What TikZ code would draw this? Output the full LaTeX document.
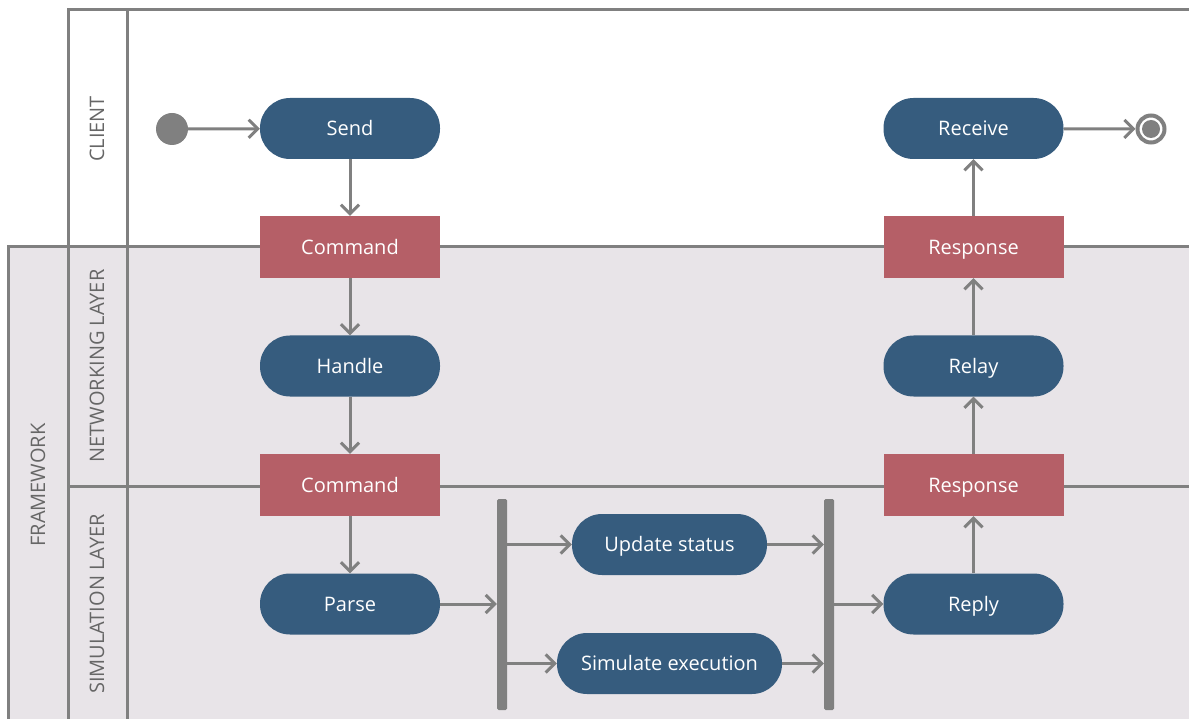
\documentclass[tikz,border=0pt]{standalone}
\usepackage{fontspec}
\setmainfont{Open Sans}
\usepackage{tikz}
\usetikzlibrary{arrows.meta}
\definecolor{ACTblue}{HTML}{365C7E}
\definecolor{OBJred}{HTML}{B55F67}
\definecolor{LANEgrey}{HTML}{808080}
\definecolor{POOLfill}{HTML}{E8E4E8}
\definecolor{LABELgrey}{HTML}{666666}
\newcommand{\diafont}{\fontsize{20}{24}\selectfont}
\tikzset{
  action/.style={rounded corners=30pt,fill=ACTblue,text=white,minimum width=180pt,minimum height=61pt,font=\diafont,text height=14.5pt,text depth=0pt},
  object/.style={fill=OBJred,text=white,minimum width=180pt,minimum height=62pt,font=\diafont,text height=14.5pt,text depth=0pt},
  syncbar/.style={fill=LANEgrey,rounded corners=1.5pt,minimum width=10pt,minimum height=211pt,inner sep=0pt},
  flow/.style={draw=LANEgrey,line width=3pt,-{Straight Barb[length=9pt,width=18pt]}},
  lane/.style={draw=LANEgrey,line width=3pt},
  lanelabel/.style={rotate=90,text=LABELgrey,font=\diafont}
}

\begin{document}
\begin{tikzpicture}[x=1pt,y=-1pt]
    \useasboundingbox (0,0) rectangle (1189,719);
    \fill[POOLfill] (8,247) rectangle (1189,719);
    \draw[lane] (68,719) -- (68,10) -- (1189,10);
    \draw[lane] (127,10) -- (127,719);
    \draw[lane] (8,719) -- (8,247) -- (1189,247);
    \draw[lane] (68,486) -- (1189,486);
    \node[lanelabel] (client) at (97,129) {CLIENT};
    \node[lanelabel] (netlayer) at (97,366) {NETWORKING LAYER};
    \node[lanelabel] (simlayer) at (97,604) {SIMULATION LAYER};
    \node[lanelabel] (framework) at (38,485) {FRAMEWORK};
    \node[circle,fill=LANEgrey,minimum size=32pt,inner sep=0pt] (start) at (172,129) {};
    \node[action] (send) at (350,128.5) {Send};
    \node[object] (cmdnet) at (350,247) {Command};
    \node[action] (handle) at (350,366) {Handle};
    \node[object] (cmdsim) at (350,485) {Command};
    \node[action] (parse) at (350,604) {Parse};
    \node[syncbar] (fork) at (502,604.5) {};
    \node[action,minimum width=195pt] (update) at (669.5,544.5) {Update status};
    \node[action,minimum width=225pt] (simulate) at (669.5,663.5) {Simulate execution};
    \node[syncbar] (join) at (829,604.5) {};
    \node[action] (reply) at (973.5,604) {Reply};
    \node[object] (respsim) at (973.5,485) {Response};
    \node[action] (relay) at (973.5,366) {Relay};
    \node[object] (respnet) at (973.5,247) {Response};
    \node[action] (receive) at (973.5,128.5) {Receive};
    \node[circle,draw=LANEgrey,line width=4pt,fill=white,minimum size=27pt,inner sep=0pt] (stop) at (1151,129) {};
    \node[circle,fill=LANEgrey,minimum size=18pt,inner sep=0pt] (stopdot) at (stop) {};
    \draw[flow] (start) -- (send);
    \draw[flow] (send) -- (cmdnet);
    \draw[flow] (cmdnet) -- (handle);
    \draw[flow] (handle) -- (cmdsim);
    \draw[flow] (cmdsim) -- (parse);
    \draw[flow] (parse) -- (parse -| fork.west);
    \draw[flow] (fork.east |- update) -- (update);
    \draw[flow] (fork.east |- simulate) -- (simulate);
    \draw[flow] (update) -- (update -| join.west);
    \draw[flow] (simulate) -- (simulate -| join.west);
    \draw[flow] (join.east |- reply) -- (reply);
    \draw[flow] (reply) -- (respsim);
    \draw[flow] (respsim) -- (relay);
    \draw[flow] (relay) -- (respnet);
    \draw[flow] (respnet) -- (receive);
    \draw[flow] (receive) -- (stop);
  \end{tikzpicture}
\end{document}
